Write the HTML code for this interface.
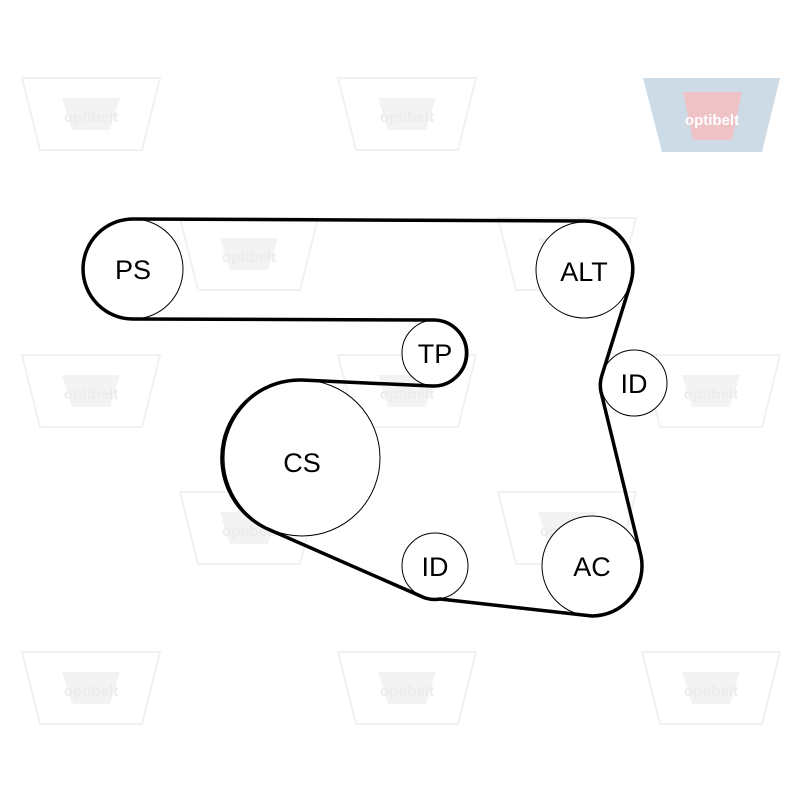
<!DOCTYPE html>
<html><head><meta charset="utf-8"><style>body{margin:0;background:#fff}svg{display:block}</style></head><body>
<svg width="800" height="800" viewBox="0 0 800 800" xmlns="http://www.w3.org/2000/svg">
<defs>
<g id="wm">
<path d="M0,0 L138,0 L120,72 L18,72 Z" fill="none" stroke="#f1f1f1" stroke-width="2"/>
<path d="M40,20 L98,20 L88,52 L50,52 Z" fill="#f3f3f3"/>
<text x="69" y="44" text-anchor="middle" font-family="Liberation Sans, sans-serif" font-weight="bold" font-size="15" fill="#ececec">optibelt</text>
</g>
</defs>
<use href="#wm" x="22" y="78"/><use href="#wm" x="338" y="78"/>
<use href="#wm" x="22" y="355"/><use href="#wm" x="338" y="355"/><use href="#wm" x="642" y="355"/>
<use href="#wm" x="180" y="218"/><use href="#wm" x="498" y="218"/>
<use href="#wm" x="180" y="492"/><use href="#wm" x="498" y="492"/>
<use href="#wm" x="22" y="652"/><use href="#wm" x="338" y="652"/><use href="#wm" x="642" y="652"/>
<path d="M643,78 L780,78 L762,152 L662,152 Z" fill="#cddbe7"/>
<path d="M683,92 L742,92 L732,140 L693,140 Z" fill="#efc2c6"/>
<text x="712" y="125" text-anchor="middle" font-family="Liberation Sans, sans-serif" font-weight="bold" font-size="15" fill="#fff">optibelt</text>
<g fill="#fff" stroke="#000" stroke-width="1">
<circle cx="133" cy="269" r="50"/><circle cx="584" cy="270" r="48"/>
<circle cx="435" cy="353" r="33"/><circle cx="634" cy="383" r="33"/>
<circle cx="302" cy="458" r="78"/><circle cx="435" cy="566" r="33"/>
<circle cx="592" cy="566" r="50"/>
</g>
<path d="M584,221 L133,219 A50,50 0 0 0 133,319 L435,320 A33,33 0 0 1 432,386 L302,380 A78,78 0 0 0 270,530 L425,598 A33,33 0 0 0 440,599 L592,616 A50,50 0 0 0 641,556 L601,392 A33,33 0 0 1 602,375 L631,282 A48,48 0 0 0 584,221 Z" fill="none" stroke="#000" stroke-width="3.5" stroke-linejoin="round"/>
<g font-family="Liberation Sans, sans-serif" font-size="27" text-anchor="middle" fill="#000">
<text x="133" y="279">PS</text><text x="584" y="281">ALT</text>
<text x="435" y="363">TP</text><text x="634" y="393">ID</text>
<text x="302" y="472">CS</text><text x="435" y="576">ID</text>
<text x="592" y="576">AC</text>
</g>
</svg>
</body></html>
